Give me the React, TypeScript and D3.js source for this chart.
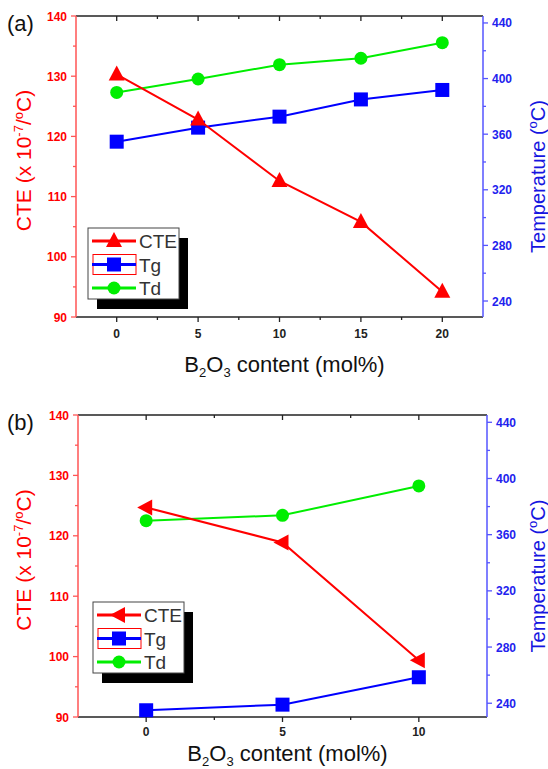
import * as d3 from "d3";
import React, { useEffect, useRef } from "react";

// panel (a)
const xA = [0, 5, 10, 15, 20];
const cteA = [130.3, 122.8, 112.6, 105.8, 94.2];
const tgA = [354.6, 364.7, 372.6, 385.0, 391.8];
const tdA = [390.0, 399.7, 410.0, 414.6, 425.8];

// panel (b)
const xB = [0, 5, 10];
const cteB = [124.7, 118.9, 99.4];
const tgB = [235.0, 239.0, 258.5];
const tdB = [370.0, 373.8, 394.7];

const leftTicks = [90, 100, 110, 120, 130, 140];
const rightTicks = [240, 280, 320, 360, 400, 440];
const seriesNames = ["CTE", "Tg", "Td"];

const RED = "#ff0000";
const BLUE = "#0000ff";
const GREEN = "#00ee00";
const FONT = "'Liberation Sans', Arial, sans-serif";

interface PanelCfg {
  tag: string;
  x: number[];
  cte: number[];
  tg: number[];
  td: number[];
  xDomain: [number, number];
  xTicks: number[];
  rDomain: [number, number];
  left: number;
  right: number;
  top: number;
  bottom: number;
  xLabelDy: number;
  xTitleY: number;
  leftPointing: boolean;
  legend: { x: number; y: number };
}

const panels: PanelCfg[] = [
  {
    tag: "(a)",
    x: xA,
    cte: cteA,
    tg: tgA,
    td: tdA,
    xDomain: [-2.5, 22.5],
    xTicks: [0, 5, 10, 15, 20],
    rDomain: [228.5, 445],
    left: 76,
    right: 483,
    top: 16,
    bottom: 317,
    xLabelDy: 21,
    xTitleY: 372,
    leftPointing: false,
    legend: { x: 88, y: 228 },
  },
  {
    tag: "(b)",
    x: xB,
    cte: cteB,
    tg: tgB,
    td: tdB,
    xDomain: [-2.5, 12.5],
    xTicks: [0, 5, 10],
    rDomain: [230.2, 445.2],
    left: 78,
    right: 487,
    top: 415,
    bottom: 717,
    xLabelDy: 19,
    xTitleY: 761,
    leftPointing: true,
    legend: { x: 93, y: 602 },
  },
];

const triPath = (w: number, h: number) =>
  `M0,${-h * 0.6}L${w / 2},${h * 0.4}L${-w / 2},${h * 0.4}Z`;

const App = () => {
  const svgRef = useRef<SVGSVGElement>(null);

  useEffect(() => {
    const svg = d3.select(svgRef.current);
    svg.selectAll("*").remove();

    panels.forEach((p) => {
      const g = svg.append("g");
      const x = d3.scaleLinear().domain(p.xDomain).range([p.left, p.right]);
      const yL = d3.scaleLinear().domain([90, 140]).range([p.bottom, p.top]);
      const yR = d3.scaleLinear().domain(p.rDomain).range([p.bottom, p.top]);

      // frame lines
      g.append("line")
        .attr("x1", p.left).attr("x2", p.right)
        .attr("y1", p.top).attr("y2", p.top)
        .attr("stroke", "#222").attr("stroke-width", 1.5);
      g.append("line")
        .attr("x1", p.left).attr("x2", p.right)
        .attr("y1", p.bottom).attr("y2", p.bottom)
        .attr("stroke", "#222").attr("stroke-width", 1.5);
      g.append("line")
        .attr("x1", p.left).attr("x2", p.left)
        .attr("y1", p.top).attr("y2", p.bottom)
        .attr("stroke", "#ff5555").attr("stroke-width", 1.5);
      g.append("line")
        .attr("x1", p.right).attr("x2", p.right)
        .attr("y1", p.top).attr("y2", p.bottom)
        .attr("stroke", "#5555ff").attr("stroke-width", 1.5);

      // x ticks (top inward, bottom outward)
      const xMinor = d3.range(p.xDomain[0], p.xDomain[1] + 0.01, 2.5)
        .filter((v) => v > p.xDomain[0] && v < p.xDomain[1]);
      xMinor.forEach((v) => {
        const major = p.xTicks.includes(v);
        const len = major ? 5 : 3;
        g.append("line")
          .attr("x1", x(v)).attr("x2", x(v))
          .attr("y1", p.bottom).attr("y2", p.bottom + len)
          .attr("stroke", "#222").attr("stroke-width", 1.3);
        g.append("line")
          .attr("x1", x(v)).attr("x2", x(v))
          .attr("y1", p.top).attr("y2", p.top + len)
          .attr("stroke", "#222").attr("stroke-width", 1.3);
      });
      g.selectAll(".xlab")
        .data(p.xTicks)
        .enter()
        .append("text")
        .attr("x", (d) => x(d))
        .attr("y", p.bottom + p.xLabelDy)
        .attr("text-anchor", "middle")
        .style("font", `bold 12px ${FONT}`)
        .style("fill", "#222")
        .text((d) => d);

      // left axis ticks
      d3.range(90, 140.1, 5).forEach((v) => {
        const major = v % 10 === 0;
        g.append("line")
          .attr("x1", p.left).attr("x2", p.left - (major ? 5 : 3))
          .attr("y1", yL(v)).attr("y2", yL(v))
          .attr("stroke", "#ff5555").attr("stroke-width", 1.3);
      });
      g.selectAll(".ylab")
        .data(leftTicks)
        .enter()
        .append("text")
        .attr("x", p.left - 9)
        .attr("y", (d) => yL(d) + 4.5)
        .attr("text-anchor", "end")
        .style("font", `bold 12px ${FONT}`)
        .style("fill", RED)
        .text((d) => d);

      // right axis ticks
      d3.range(240, 441, 20).forEach((v) => {
        const major = v % 40 === 0;
        g.append("line")
          .attr("x1", p.right).attr("x2", p.right + (major ? 5 : 3))
          .attr("y1", yR(v)).attr("y2", yR(v))
          .attr("stroke", "#5555ff").attr("stroke-width", 1.3);
      });
      g.selectAll(".rlab")
        .data(rightTicks)
        .enter()
        .append("text")
        .attr("x", p.right + 9)
        .attr("y", (d) => yR(d) + 4.5)
        .attr("text-anchor", "start")
        .style("font", `bold 12px ${FONT}`)
        .style("fill", "#2222ee")
        .text((d) => d);

      // series
      const ctePts = p.x.map((v, i) => [x(v), yL(p.cte[i])] as [number, number]);
      const tgPts = p.x.map((v, i) => [x(v), yR(p.tg[i])] as [number, number]);
      const tdPts = p.x.map((v, i) => [x(v), yR(p.td[i])] as [number, number]);
      const line = d3.line();

      const drawSeries = (
        pts: [number, number][],
        color: string,
        marker: (sel: any) => void
      ) => {
        g.append("path")
          .attr("d", line(pts))
          .attr("fill", "none")
          .attr("stroke", color)
          .attr("stroke-width", 2);
        pts.forEach(([px, py]) => {
          const mg = g.append("g").attr("transform", `translate(${px},${py})`);
          marker(mg);
        });
      };

      const triMarker = (sel: any) =>
        sel.append("path")
          .attr("d", triPath(16, 15))
          .attr("transform", p.leftPointing ? "rotate(-90)" : null)
          .attr("fill", RED);
      const sqMarker = (sel: any) =>
        sel.append("rect")
          .attr("x", -7).attr("y", -7).attr("width", 14).attr("height", 14)
          .attr("fill", BLUE);
      const circMarker = (sel: any) =>
        sel.append("circle").attr("r", 6.5).attr("fill", GREEN);

      drawSeries(tdPts, GREEN, circMarker);
      drawSeries(tgPts, BLUE, sqMarker);
      drawSeries(ctePts, RED, triMarker);

      // legend
      const lw = 91;
      const lh = 71;
      const lg = g.append("g").attr("transform", `translate(${p.legend.x},${p.legend.y})`);
      lg.append("rect")
        .attr("x", 9).attr("y", 10).attr("width", lw).attr("height", lh)
        .attr("fill", "#000");
      lg.append("rect")
        .attr("x", 0).attr("y", 0).attr("width", lw).attr("height", lh)
        .attr("fill", "#fff").attr("stroke", "#444").attr("stroke-width", 1);
      const markers = [triMarker, sqMarker, circMarker];
      const colors = [RED, BLUE, GREEN];
      seriesNames.forEach((name, i) => {
        const cy = 13 + i * 23.5;
        if (i === 1) {
          lg.append("rect")
            .attr("x", 5).attr("y", cy - 10).attr("width", 43).attr("height", 20)
            .attr("fill", "none").attr("stroke", RED).attr("stroke-width", 1);
        }
        lg.append("line")
          .attr("x1", 4).attr("x2", 48)
          .attr("y1", cy).attr("y2", cy)
          .attr("stroke", colors[i]).attr("stroke-width", 3);
        const mg = lg.append("g").attr("transform", `translate(26,${cy})`);
        markers[i](mg);
        lg.append("text")
          .attr("x", 51)
          .attr("y", cy + 7)
          .style("font", `19px ${FONT}`)
          .style("fill", "#333")
          .text(name);
      });

      // panel tag
      g.append("text")
        .attr("x", 7)
        .attr("y", p.top + 15)
        .style("font", `22px ${FONT}`)
        .style("fill", "#111")
        .text(p.tag);

      const midY = (p.top + p.bottom) / 2;

      // left title
      const lt = g.append("text")
        .attr("transform", `translate(31,${midY - 6}) rotate(-90)`)
        .attr("text-anchor", "middle")
        .style("font", `21px ${FONT}`)
        .style("fill", RED);
      lt.append("tspan").text("CTE (x 10");
      lt.append("tspan").attr("dy", -8).style("font-size", "13px").text("-7");
      lt.append("tspan").attr("dy", 8).text("/");
      lt.append("tspan").attr("dy", -8).style("font-size", "13px").text("o");
      lt.append("tspan").attr("dy", 8).text("C)");

      // right title
      const rt = g.append("text")
        .attr("transform", `translate(545,${midY + 10}) rotate(-90)`)
        .attr("text-anchor", "middle")
        .style("font", `20px ${FONT}`)
        .style("fill", "#1515e0");
      rt.append("tspan").text("Temperature (");
      rt.append("tspan").attr("dy", -8).style("font-size", "13px").text("o");
      rt.append("tspan").attr("dy", 8).text("C)");

      // x title
      const xt = g.append("text")
        .attr("x", (p.left + p.right) / 2 + 5)
        .attr("y", p.xTitleY)
        .attr("text-anchor", "middle")
        .style("font", `22px ${FONT}`)
        .style("fill", "#111");
      xt.append("tspan").text("B");
      xt.append("tspan").attr("dy", 5).style("font-size", "13px").text("2");
      xt.append("tspan").attr("dy", -5).text("O");
      xt.append("tspan").attr("dy", 5).style("font-size", "13px").text("3");
      xt.append("tspan").attr("dy", -5).text(" content (mol%)");
    });
  }, []);

  return (
    <svg
      ref={svgRef}
      width={548}
      height={769}
      style={{ position: "absolute", left: 0, top: 0, background: "#fff" }}
    ></svg>
  );
};

export default App;
